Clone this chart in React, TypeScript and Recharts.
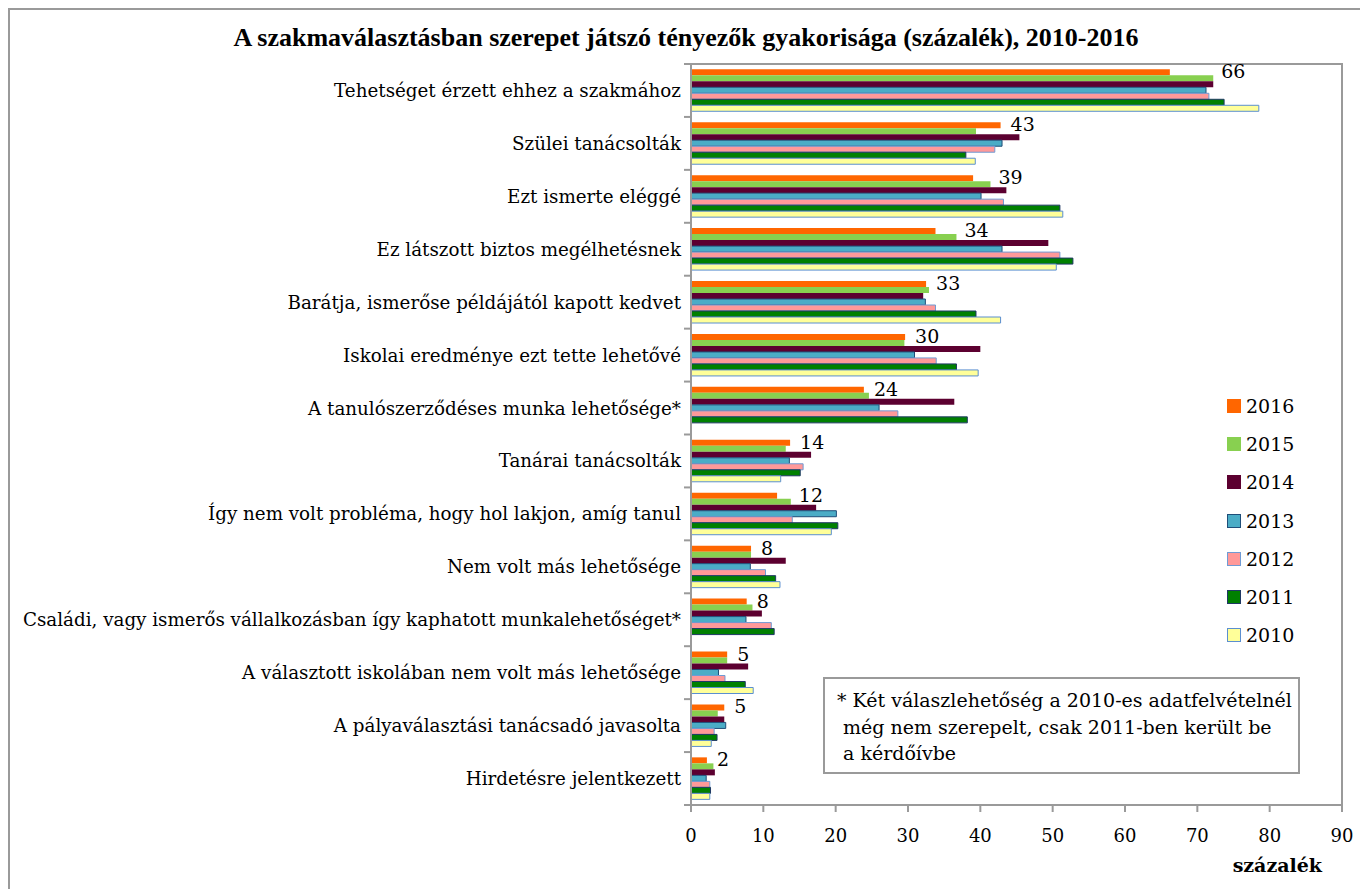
import React from 'react';
import {
  BarChart,
  Bar,
  XAxis,
  YAxis,
  LabelList,
  ReferenceArea,
} from 'recharts';

const categories = [
  'Tehetséget érzett ehhez a szakmához',
  'Szülei tanácsolták',
  'Ezt ismerte eléggé',
  'Ez látszott biztos megélhetésnek',
  'Barátja, ismerőse példájától kapott kedvet',
  'Iskolai eredménye ezt tette lehetővé',
  'A tanulószerződéses munka lehetősége*',
  'Tanárai tanácsolták',
  'Így nem volt probléma, hogy hol lakjon, amíg tanul',
  'Nem volt más lehetősége',
  'Családi, vagy ismerős vállalkozásban így kaphatott munkalehetőséget*',
  'A választott iskolában nem volt más lehetősége',
  'A pályaválasztási tanácsadó javasolta',
  'Hirdetésre jelentkezett',
];

const v2016 = [66.2, 42.8, 39.0, 33.8, 32.5, 29.6, 23.9, 13.7, 11.9, 8.3, 7.7, 5.0, 4.6, 2.2];
const v2015 = [72.2, 39.4, 41.4, 36.7, 32.9, 29.5, 24.6, 13.1, 13.8, 8.3, 8.5, 5.0, 3.7, 3.1];
const v2014 = [72.2, 45.4, 43.6, 49.4, 32.1, 40.0, 36.4, 16.6, 17.3, 13.1, 9.8, 7.9, 4.6, 3.3];
const v2013 = [71.2, 43.0, 40.1, 43.0, 32.4, 30.9, 26.0, 13.6, 20.1, 8.2, 7.6, 3.8, 4.8, 2.1];
const v2012 = [71.6, 42.0, 43.2, 51.0, 33.8, 33.9, 28.6, 15.5, 14.0, 10.3, 11.1, 4.7, 3.2, 2.6];
const v2011 = [73.7, 38.0, 51.0, 52.8, 39.4, 36.7, 38.2, 15.1, 20.3, 11.7, 11.5, 7.5, 3.6, 2.7];
const v2010 = [78.5, 39.3, 51.4, 50.5, 42.8, 39.7, null, 12.4, 19.4, 12.3, null, 8.6, 2.8, 2.6];

// labels shown next to the 2016 bars
const labels2016 = [66, 43, 39, 34, 33, 30, 24, 14, 12, 8, 8, 5, 5, 2];

const xTicks = [0, 10, 20, 30, 40, 50, 60, 70, 80, 90];

const series = [
  { key: '2016', values: v2016, fill: '#FF6600', stroke: 'none' },
  { key: '2015', values: v2015, fill: '#88D050', stroke: 'none' },
  { key: '2014', values: v2014, fill: '#5C0030', stroke: 'none' },
  { key: '2013', values: v2013, fill: '#4BACC6', stroke: '#1F4E79' },
  { key: '2012', values: v2012, fill: '#FF9999', stroke: '#6F9BD4' },
  { key: '2011', values: v2011, fill: '#008000', stroke: '#1F3864' },
  { key: '2010', values: v2010, fill: '#FFFF99', stroke: '#5B8FD0' },
];

const data = categories.map((name, i) => {
  const row: any = { name };
  series.forEach((s) => {
    row[s.key] = s.values[i];
  });
  return row;
});

const FONT = '"DejaVu Serif", "Liberation Serif", serif';
const TITLE_FONT = '"Liberation Serif", serif';
const FS = 18;
const W = 1352;
const H = 880;
const PLOT_TOP = 54;
const PLOT_H = 741;
const Y_W = 681;
const BAND = PLOT_H / categories.length;
const AXIS = '#9a9a9a';

const CategoryTick = (props: any) => {
  const { x, y, payload, index } = props;
  return (
    <g>
      <line x1={x - 7} x2={x} y1={y - BAND / 2} y2={y - BAND / 2} stroke={AXIS} strokeWidth={2} />
      {index === categories.length - 1 && (
        <line x1={x - 7} x2={x} y1={y + BAND / 2} y2={y + BAND / 2} stroke={AXIS} strokeWidth={2} />
      )}
      <text
        x={x - 10}
        y={y}
        textAnchor="end"
        dominantBaseline="central"
        fontFamily={FONT}
        fontSize={18.3}
        fill="#000"
      >
        {payload.value}
      </text>
    </g>
  );
};

const renderLabel = (props: any) => {
  const { x, y, width, height, index } = props;
  const a = v2016[index];
  const b = v2015[index];
  const unit = width / a;
  const pushed = b - a > 1.5;
  const end = pushed ? b : a;
  return (
    <text
      x={x + end * unit + (pushed ? 8 : 10)}
      y={y + height / 2 - 1}
      dominantBaseline="central"
      fontFamily={FONT}
      fontSize={FS + 1}
      fill="#000"
    >
      {labels2016[index]}
    </text>
  );
};

export default function App() {
  return (
    <div
      style={{
        position: 'relative',
        width: W,
        height: 890,
        border: `2px solid ${AXIS}`,
        fontFamily: FONT,
        background: '#fff',
      }}
    >
      <div
        style={{
          position: 'absolute',
          top: 13,
          left: 0,
          width: W,
          textAlign: 'center',
          fontFamily: TITLE_FONT,
          fontSize: 26,
          fontWeight: 'bold',
          color: '#000',
        }}
      >
        A szakmaválasztásban szerepet játszó tényezők gyakorisága (százalék), 2010-2016
      </div>
      <BarChart
        width={W}
        height={H}
        data={data}
        layout="vertical"
        margin={{ top: PLOT_TOP, right: W - Y_W - 651, left: 0, bottom: H - PLOT_TOP - PLOT_H - 60 }}
        barCategoryGap="10%"
        barGap={0}
      >
        <XAxis
          type="number"
          domain={[0, 90]}
          ticks={xTicks}
          height={60}
          tickSize={7}
          tickMargin={17}
          axisLine={{ stroke: AXIS, strokeWidth: 2 }}
          tickLine={{ stroke: AXIS, strokeWidth: 2 }}
          tick={{ fontFamily: FONT, fontSize: FS, fill: '#000' }}
          interval={0}
        />
        <YAxis
          type="category"
          dataKey="name"
          width={Y_W}
          tickSize={0}
          tickMargin={0}
          tickLine={false}
          axisLine={{ stroke: AXIS, strokeWidth: 2 }}
          tick={<CategoryTick />}
          interval={0}
        />
        <ReferenceArea x1={0} x2={90} fill="none" stroke={AXIS} strokeWidth={2} ifOverflow="visible" />
        {series.map((s) => (
          <Bar
            key={s.key}
            dataKey={s.key}
            fill={s.fill}
            stroke={s.stroke}
            strokeWidth={1}
            isAnimationActive={false}
          >
            {s.key === '2016' && <LabelList dataKey="2016" content={renderLabel} />}
          </Bar>
        ))}
      </BarChart>
      <div
        style={{
          position: 'absolute',
          left: 1217,
          top: 377,
          fontSize: FS + 1,
          color: '#000',
        }}
      >
        {series.map((s) => (
          <div key={s.key} style={{ height: 38.2, display: 'flex', alignItems: 'center' }}>
            <span
              style={{
                display: 'inline-block',
                width: s.stroke === 'none' ? 14 : 12,
                height: s.stroke === 'none' ? 14 : 12,
                background: s.fill,
                border: s.stroke === 'none' ? 'none' : `1px solid ${s.stroke}`,
                marginRight: 5,
              }}
            />
            {s.key}
          </div>
        ))}
      </div>
      <div
        style={{
          position: 'absolute',
          left: 813,
          top: 667,
          width: 477,
          height: 97,
          border: `2px solid ${AXIS}`,
          fontSize: FS + 1,
          lineHeight: '26.5px',
          color: '#000',
          padding: '8px 0 0 12px',
          boxSizing: 'border-box',
          whiteSpace: 'pre',
        }}
      >
        {'* Két válaszlehetőség a 2010-es adatfelvételnél\n még nem szerepelt, csak 2011-ben került be\n a kérdőívbe'}
      </div>
      <div
        style={{
          position: 'absolute',
          right: W - 1312,
          top: 844,
          fontSize: FS + 1,
          fontWeight: 'bold',
          color: '#000',
        }}
      >
        százalék
      </div>
    </div>
  );
}
